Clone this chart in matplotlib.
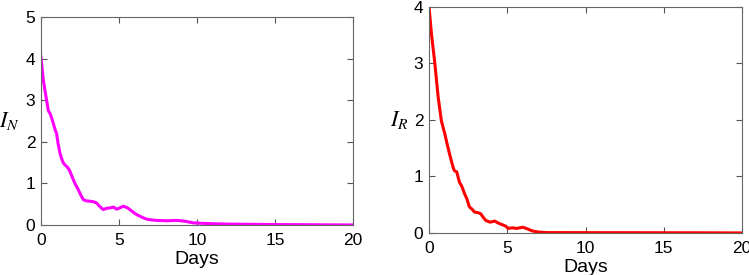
import numpy as np
import matplotlib.pyplot as plt

# infected, normal strain
days_n = [0.0, 0.15, 0.36, 0.47, 0.58, 0.68, 0.79, 0.9, 1.0, 1.1, 1.22, 1.32, 1.43, 1.55,
          1.64, 1.75, 1.86, 1.95, 2.07, 2.2, 2.39, 2.55, 2.71, 2.9, 3.14, 3.35, 3.56, 3.75,
          3.99, 4.2, 4.42, 4.65, 4.85, 5.05, 5.27, 5.5, 5.7, 5.9, 6.13, 6.45, 6.77, 7.1,
          7.4, 8.05, 8.7, 9.22, 9.75, 10.3, 11.0, 12.0, 13.5, 15.0, 17.0, 20.0]
inf_n = [4.04, 3.48, 3.0, 2.75, 2.68, 2.58, 2.44, 2.3, 2.2, 1.95, 1.72, 1.6, 1.49, 1.44,
         1.41, 1.36, 1.29, 1.2, 1.09, 0.98, 0.85, 0.72, 0.61, 0.58, 0.57, 0.56, 0.53, 0.45,
         0.37, 0.4, 0.41, 0.43, 0.38, 0.41, 0.45, 0.42, 0.37, 0.31, 0.25, 0.19, 0.14, 0.12,
         0.11, 0.1, 0.11, 0.09, 0.05, 0.04, 0.03, 0.02, 0.015, 0.01, 0.006, 0.0]

# infected, resistant strain
days_r = [0.0, 0.15, 0.37, 0.58, 0.79, 1.0, 1.2, 1.41, 1.55, 1.62, 1.77, 1.94, 2.1, 2.26,
          2.42, 2.58, 2.75, 2.9, 3.1, 3.3, 3.45, 3.63, 3.9, 4.2, 4.45, 4.73, 4.9, 5.05,
          5.3, 5.6, 5.8, 6.0, 6.3, 6.6, 7.0, 7.5, 8.5, 10.0, 13.0, 16.0, 20.0]
inf_r = [4.0, 3.53, 3.0, 2.41, 1.98, 1.76, 1.52, 1.29, 1.15, 1.1, 1.08, 0.9, 0.82, 0.7,
         0.6, 0.46, 0.42, 0.37, 0.36, 0.34, 0.28, 0.22, 0.19, 0.21, 0.17, 0.14, 0.12, 0.08,
         0.09, 0.08, 0.09, 0.1, 0.07, 0.035, 0.015, 0.006, 0.006, 0.005, 0.004, 0.003, 0.0]

plt.rcParams['font.family'] = ['Liberation Sans', 'DejaVu Sans']
plt.rcParams['mathtext.fontset'] = 'stix'


def style_axes(ax, ymax):
    ax.set_xlim(0, 20)
    ax.set_ylim(0, ymax)
    ax.set_xticks([0, 5, 10, 15, 20])
    ax.set_yticks(range(0, ymax + 1))
    ax.tick_params(direction='in', top=True, right=True, length=4, width=0.8,
                   color='#555555', labelsize=12.5)
    ax.tick_params(axis='x', pad=6)
    ax.tick_params(axis='y', pad=4)
    for sp in ax.spines.values():
        sp.set_color('#666666')
        sp.set_linewidth(0.8)
    ax.set_xlabel('Days', fontsize=14, labelpad=2)


fig = plt.figure(figsize=(7.49, 2.75), dpi=100)
ax1 = fig.add_axes([0.0547, 0.182, 0.4166, 0.756])
ax2 = fig.add_axes([0.5728, 0.153, 0.4179, 0.823])

ax1.plot(days_n, inf_n, color='#ff00ff', lw=2.2)
style_axes(ax1, 5)
ax1.set_ylabel('$I_N$', fontsize=16, rotation=0, labelpad=12, va='center')

ax2.plot(days_r, inf_r, color='#ff0000', lw=2.2)
style_axes(ax2, 4)
ax2.set_ylabel('$I_R$', fontsize=16, rotation=0, labelpad=10, va='center')

fig.savefig('out.png', dpi=100)
